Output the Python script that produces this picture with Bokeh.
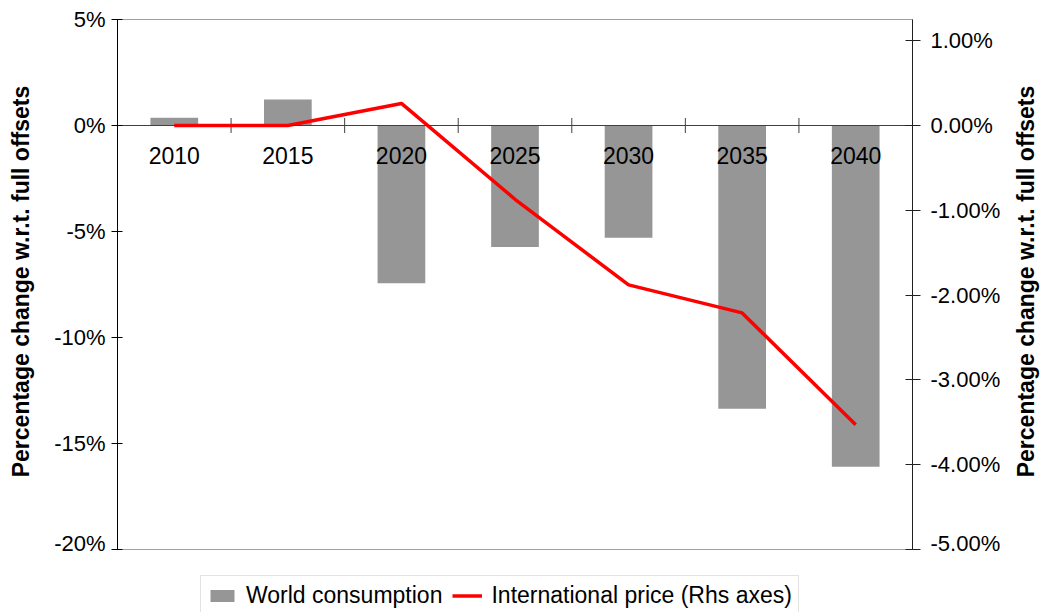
import math
from bokeh.plotting import figure
from bokeh.layouts import row, column
from bokeh.models import (Range1d, FactorRange, LinearAxis, FixedTicker,
                          NumeralTickFormatter, Legend, LegendItem, Label,
                          ColumnDataSource)
from bokeh.transform import dodge
from bokeh.embed import file_html
from bokeh.resources import INLINE

# ---- data ----
years = ["2010", "2015", "2020", "2025", "2030", "2035", "2040"]
world_consumption_pct = [0.36, 1.23, -7.44, -5.73, -5.3, -13.36, -16.1]
international_price_pct = [0.0, 0.0, 0.26, -0.87, -1.88, -2.21, -3.53]
left_ticks_pct = [-20, -15, -10, -5, 0, 5]
right_ticks_pct = [-5, -4, -3, -2, -1, 0, 1]
left_range_pct = (-20, 5)
right_range_pct = (-5, 1.25)
axis_title = "Percentage change w.r.t. full offsets"
legend_labels = ["World consumption", "International price (Rhs axes)"]

BAR_COLOR = "#969696"
LINE_COLOR = "#ff0000"
FONT = "Liberation Sans"

source = ColumnDataSource(dict(
    year=years,
    wc=[v / 100 for v in world_consumption_pct],
    ip=[v / 100 for v in international_price_pct],
))
# category boundaries (right edge of every category except the last)
bound_src = ColumnDataSource(dict(year=years[:-1], zero=[0] * (len(years) - 1)))

MAIN_H = 555

# ---------------- main chart ----------------
p = figure(width=968, height=MAIN_H, output_backend="svg", toolbar_location=None,
           x_range=FactorRange(factors=years),
           y_range=Range1d(left_range_pct[0] / 100, left_range_pct[1] / 100),
           min_border_left=77, min_border_right=96, min_border_top=19,
           min_border_bottom=6)
p.grid.visible = False
p.outline_line_color = "#a0a0a0"
p.background_fill_color = "white"
p.border_fill_color = "white"
p.extra_y_ranges = {"rhs": Range1d(right_range_pct[0] / 100, right_range_pct[1] / 100)}

p.vbar(x="year", top="wc", bottom=0, width=0.42, source=source,
       fill_color=BAR_COLOR, line_color=None)

xa = p.xaxis[0]
xa.fixed_location = 0
xa.axis_line_color = "#404040"
xa.major_tick_line_color = None
xa.minor_tick_line_color = None
xa.major_label_text_font = FONT
xa.major_label_text_font_size = "23px"
xa.major_label_text_color = "black"
xa.major_label_standoff = 15

p.scatter(x=dodge("year", 0.5, range=p.x_range), y="zero", source=bound_src,
          marker="dash", angle=math.pi / 2, size=15, line_color="#404040",
          line_width=1)

p.line(x="year", y="ip", source=source, y_range_name="rhs",
       line_color=LINE_COLOR, line_width=3.5)

ya = p.yaxis[0]
ya.ticker = FixedTicker(ticks=[t / 100 for t in left_ticks_pct])
ya.formatter = NumeralTickFormatter(format="0%")
ya.axis_line_color = "black"
ya.major_tick_line_color = "black"
ya.major_tick_in = 5
ya.major_tick_out = 6
ya.minor_tick_line_color = None
ya.major_label_text_font = FONT
ya.major_label_text_font_size = "22px"
ya.major_label_text_color = "black"
ya.major_label_standoff = 6

ra = LinearAxis(y_range_name="rhs", ticker=FixedTicker(ticks=[t / 100 for t in right_ticks_pct]),
                formatter=NumeralTickFormatter(format="0.00%"))
ra.axis_line_color = "#202020"
ra.major_tick_line_color = "#202020"
ra.major_tick_in = 7
ra.major_tick_out = 8
ra.minor_tick_line_color = None
ra.major_label_text_font = FONT
ra.major_label_text_font_size = "22px"
ra.major_label_text_color = "black"
ra.major_label_standoff = 10
p.add_layout(ra, "right")


def title_fig(width, xpos):
    f = figure(width=width, height=MAIN_H, output_backend="svg", toolbar_location=None,
               x_axis_location=None, y_axis_location=None, min_border=0,
               x_range=Range1d(0, 1), y_range=Range1d(0, 1))
    f.grid.visible = False
    f.outline_line_color = None
    f.add_layout(Label(x=xpos, y=MAIN_H - 287, x_units="screen", y_units="screen",
                       text=axis_title, angle=math.pi / 2,
                       text_align="center", text_baseline="middle",
                       text_font=FONT, text_font_style="bold",
                       text_font_size="23px", text_color="black"))
    return f


left_fig = title_fig(40, 20)
right_fig = title_fig(32, 17)

# ---------------- legend strip ----------------
# same series drawn again, but outside the visible y window, so only the legend shows
lg = figure(width=1040, height=612 - MAIN_H, output_backend="svg", toolbar_location=None,
            x_axis_location=None, y_axis_location=None, min_border=0,
            x_range=FactorRange(factors=years), y_range=Range1d(10, 11))
lg.grid.visible = False
lg.outline_line_color = None
r_bar = lg.vbar(x="year", top="wc", bottom=0, width=0.42, source=source,
                fill_color=BAR_COLOR, line_color=None)
r_line = lg.line(x="year", y="ip", source=source, line_color=LINE_COLOR, line_width=3.5)

legend = Legend(items=[LegendItem(label=legend_labels[0], renderers=[r_bar]),
                       LegendItem(label=legend_labels[1], renderers=[r_line])],
                orientation="horizontal", location=(200, -4))
legend.label_text_font = FONT
legend.label_text_font_size = "23px"
legend.label_text_color = "black"
legend.glyph_width = 30
legend.glyph_height = 15
legend.label_standoff = 9
legend.spacing = 10
legend.padding = 6
legend.margin = 0
legend.border_line_color = "#c8c8c8"
legend.background_fill_color = "white"
legend.background_fill_alpha = 1
lg.add_layout(legend)

layout = column(row(left_fig, p, right_fig, spacing=0), lg, spacing=0)

open("out.html", "w").write(file_html(layout, INLINE))
